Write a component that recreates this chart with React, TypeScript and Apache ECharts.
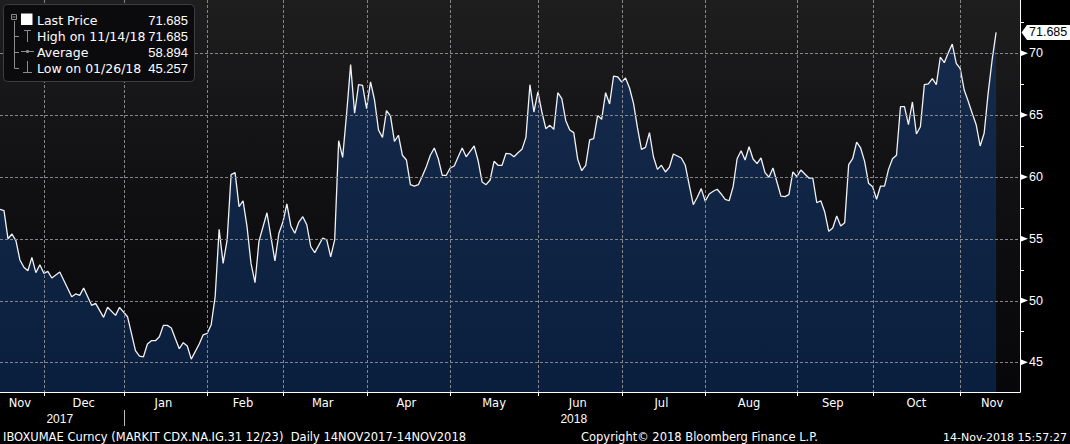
import { useEffect, useRef } from "react";
import * as echarts from "echarts";

// Trading-day calendar (weekdays minus market holidays)
const HOLIDAYS = [
  "2017-11-23", "2017-11-24", "2017-12-25", "2018-01-01", "2018-01-15",
  "2018-02-19", "2018-03-30", "2018-05-28", "2018-07-04", "2018-09-03",
  "2018-10-08", "2018-11-22",
];
const AXIS_START = "2017-11-14";
const AXIS_END = "2018-11-23";

// Daily values, one per trading day (null = not read; line joins across)
const nov17 = [57.38, 57.27, 55.0, 55.38, 54.84, 53.28, 52.69, 52.41, 53.49, 52.25, 52.9];
const dec17 = [52.2, 52.36, 51.82, null, 52.31, null, null, 50.31, 50.53, 50.42, 51.01, null, 49.61, 49.77, null, 48.64, 49.45, null, 48.8, 49.45];
const jan18 = [49.07, 48.69, null, 45.94, 45.51, 45.45, 46.48, 46.75, 46.75, 47.07, 47.99, 47.99, 47.78, 46.92, 46.1, 46.59, 46.32, 45.257, null, 46.48, 47.23];
const feb18 = [47.34, 48.04, 50.31, 55.76, 53.0, 54.88, 60.18, 60.34, 57.59, 58.07, 55.97, 53.0, 51.44, 54.8, null, 57.1, null, 53.2, 55.44];
const mar18 = [56.35, 57.81, 56.03, 55.44, 56.35, 56.78, 56.13, 54.35, 53.87, null, 55.06, 54.9, 53.54, 54.9, 62.93, 61.58, 65.15, 69.08, 65.15, 67.46, 67.41];
const apr18 = [65.52, 67.68, 66.22, 63.79, 63.2, 65.36, 64.93, 62.88, 63.37, 61.75, 61.37, 59.37, 59.26, 59.37, 60.07, 60.83, 61.75, 62.34, 61.47, 60.13, 60.13];
const may18 = [60.72, 60.88, 61.63, 62.34, 61.63, 62.07, 62.5, 61.31, 59.59, 59.37, 59.75, 61.26, 60.94, 60.94, 61.91, 61.87, 61.63, 61.96, 62.23, 63.2, 67.46, 65.25];
const jun18 = [66.87, 65.25, 63.9, 64.17, 63.85, 66.81, 66.33, 64.55, 63.79, 63.58, 61.42, 60.5, 60.94, 62.99, 63.09, 64.98, 64.66, 66.81, 65.9, 68.16, 68.1];
const jul18 = [67.68, 68.0, 67.19, 65.95, 63.96, 62.23, 62.39, 63.58, 61.63, 60.61, 60.94, 60.4, 60.78, 61.85, 61.69, 61.53, 60.94, 59.32, 57.75, 58.35, 59.05];
const aug18 = [58.03, 58.62, 58.84, 59.0, 58.62, 58.19, 58.07, 59.21, 61.47, 62.12, 61.37, 62.44, 61.45, 61.07, 61.53, 60.34, 59.97, 60.72, 59.59, 58.45, 58.4, 58.56, 60.4];
const sep18 = [60.02, 60.56, 60.23, 59.91, 59.91, 57.91, 58.07, 57.16, 55.6, 55.87, 56.84, 56.03, 56.3, 60.99, 61.47, 62.82, 62.34, 61.26, 59.48];
const oct18 = [59.21, 58.19, 59.26, 59.26, 60.61, 61.47, 61.75, 65.68, 65.68, 64.22, 66.06, 63.47, 64.06, 67.46, 67.52, 67.95, 67.46, 69.68, 69.24, 70.05, 70.75, 69.19];
const nov18 = [68.76, 67.03, 66.12, 65.15, 64.22, 62.5, 63.53, 66.76, 69.46, 71.685];

const Y_MIN = 42.6;
const Y_MAX = 74.31;
const GRID_LINES = [45, 50, 55, 60, 65, 70];
const MINOR_TICKS = [47.5, 52.5, 57.5, 62.5, 67.5, 72.5];
const LAST_PRICE = 71.685;

const LEGEND_ROWS = [
  { label: "Last Price", value: "71.685" },
  { label: "High on 11/14/18", value: "71.685" },
  { label: "Average", value: "58.894" },
  { label: "Low on 01/26/18", value: "45.257" },
];
const FOOTER_LEFT = "IBOXUMAE Curncy (MARKIT CDX.NA.IG.31 12/23)  Daily 14NOV2017-14NOV2018";
const FOOTER_MID = "Copyright\u00A9 2018 Bloomberg Finance L.P.";
const FOOTER_RIGHT = "14-Nov-2018 15:57:27";
const MONTHS = ["Jan", "Feb", "Mar", "Apr", "May", "Jun", "Jul", "Aug", "Sep", "Oct", "Nov", "Dec"];

const FONT = "'DejaVu Sans', Verdana, sans-serif";
const NUM_FONT = "'Liberation Sans', Arial, sans-serif";
const GRID_COLOR = "#85858a";
const GRID_TOP = 0;
const GRID_BOTTOM = 52;
const PAGE_H = 444;

function tradingDays(start: string, end: string): string[] {
  const out: string[] = [];
  const d = new Date(start + "T00:00:00Z");
  const e = new Date(end + "T00:00:00Z");
  while (d <= e) {
    const s = d.toISOString().slice(0, 10);
    const wd = d.getUTCDay();
    if (wd !== 0 && wd !== 6 && HOLIDAYS.indexOf(s) < 0) out.push(s);
    d.setUTCDate(d.getUTCDate() + 1);
  }
  return out;
}

export default function App() {
  const ref = useRef<HTMLDivElement>(null);

  useEffect(() => {
    document.body.style.margin = "0";
    document.body.style.background = "#000";
    if (!ref.current) return;
    const chart = echarts.init(ref.current, undefined, { renderer: "svg" });

    const days = tradingDays(AXIS_START, AXIS_END);
    const values = [
      ...nov17, ...dec17, ...jan18, ...feb18, ...mar18, ...apr18, ...may18,
      ...jun18, ...jul18, ...aug18, ...sep18, ...oct18, ...nov18,
    ];

    const monthStart: number[] = [];
    const groups: { key: string; first: number; last: number }[] = [];
    days.forEach((d, i) => {
      const key = d.slice(0, 7);
      if (!groups.length || groups[groups.length - 1].key !== key) {
        groups.push({ key, first: i, last: i });
        if (i > 0) monthStart.push(i);
      } else groups[groups.length - 1].last = i;
    });
    const monthLabel = new Set<number>(groups.map((g) => Math.round((g.first + g.last) / 2)));
    const years: { y: string; first: number; last: number }[] = [];
    days.forEach((d, i) => {
      const y = d.slice(0, 4);
      if (!years.length || years[years.length - 1].y !== y) years.push({ y, first: i, last: i });
      else years[years.length - 1].last = i;
    });
    const yearLabel = new Set<number>(years.map((g) => Math.round((g.first + g.last) / 2)));
    const yearBreaks = years.slice(1).map((g) => g.first);

    const option: any = {
      animation: false,
      backgroundColor: "#000",
      textStyle: { fontFamily: FONT },
      grid: {
        left: 0, right: 50, top: GRID_TOP, bottom: GRID_BOTTOM, show: true, borderWidth: 0,
        backgroundColor: new echarts.graphic.LinearGradient(0, 0, 0, 1, [
          { offset: 0, color: "#1e1e1f" },
          { offset: 0.45, color: "#111113" },
          { offset: 1, color: "#07070a" },
        ]),
      },
      xAxis: [
        {
          type: "category", data: days, boundaryGap: false, z: 4,
          axisLine: { lineStyle: { color: "#ffffff", width: 1 } },
          axisTick: { show: false },
          axisLabel: {
            interval: (i: number) => monthLabel.has(i),
            formatter: (v: string) => MONTHS[parseInt(v.slice(5, 7), 10) - 1],
            color: "#ffffff", fontSize: 11.5, fontFamily: FONT, margin: 5,
          },
          splitLine: { show: false },
        },
        {
          type: "category", data: days, boundaryGap: false, position: "bottom",
          axisLine: { show: false }, axisTick: { show: false }, splitLine: { show: false },
          axisLabel: {
            interval: (i: number) => yearLabel.has(i),
            formatter: (v: string) => v.slice(0, 4),
            color: "#ffffff", fontSize: 12, fontFamily: NUM_FONT, margin: 21,
          },
        },
      ],
      yAxis: {
        type: "value", position: "right", min: Y_MIN, max: Y_MAX, z: 4,
        axisLine: { show: true, lineStyle: { color: "#ffffff", width: 1 } },
        axisTick: { show: false },
        splitLine: { show: false },
        axisLabel: {
          color: "#ffffff", fontSize: 12.5, fontFamily: NUM_FONT, margin: 9,
          showMinLabel: false, showMaxLabel: false,
          formatter: (v: number) => (GRID_LINES.indexOf(v) >= 0 ? String(v) : ""),
        },
      },
      series: [
        {
          type: "line", data: values, xAxisIndex: 0, connectNulls: true,
          symbol: "none", z: 2,
          lineStyle: { color: "#f2f2f2", width: 1.3 },
          areaStyle: {
            color: new echarts.graphic.LinearGradient(0, 0, 0, 392, [
              { offset: 0, color: "#172c4d" },
              { offset: 1, color: "#0a1f3d" },
            ], true),
            opacity: 1,
          },
        },
      ],
    };
    chart.setOption(option);

    const yPx = (v: number) => Number(chart.convertToPixel({ yAxisIndex: 0 }, v));
    const xPx = (i: number) => Number(chart.convertToPixel({ xAxisIndex: 0 }, days[i]));
    const axisX = xPx(days.length - 1);
    const leftX = xPx(0);
    const topY = GRID_TOP;
    const bottomY = PAGE_H - GRID_BOTTOM;

    const g: any[] = [];
    // vertical dashed gridlines and month ticks at month starts
    monthStart.forEach((i) => {
      const x = Math.round(xPx(i)) + 0.5;
      g.push({ type: "line", silent: true, z: 3, shape: { x1: x, y1: topY, x2: x, y2: bottomY }, style: { stroke: GRID_COLOR, lineWidth: 1, lineDash: [3, 2] } });
      g.push({ type: "line", silent: true, z: 10, shape: { x1: x, y1: bottomY, x2: x, y2: bottomY + 4 }, style: { stroke: "#ffffff", lineWidth: 1 } });
    });
    GRID_LINES.forEach((v) => {
      const y = Math.round(yPx(v)) + 0.5;
      g.push({ type: "line", silent: true, z: 3, shape: { x1: leftX, y1: y, x2: axisX, y2: y }, style: { stroke: GRID_COLOR, lineWidth: 1, lineDash: [3, 2] } });
    });
    GRID_LINES.forEach((v) => {
      const y = yPx(v);
      g.push({ type: "polygon", shape: { points: [[axisX + 0.5, y - 3], [axisX + 8, y], [axisX + 0.5, y + 3]] }, style: { fill: "#ffffff" }, z: 10 });
    });
    MINOR_TICKS.forEach((v) => {
      const y = Math.round(yPx(v)) + 0.5;
      g.push({ type: "line", shape: { x1: axisX, y1: y, x2: axisX + 4, y2: y }, style: { stroke: "#ffffff", lineWidth: 1 }, z: 10 });
    });
    const ly = yPx(LAST_PRICE);
    g.push({
      type: "polygon",
      shape: { points: [[axisX + 1.5, ly], [axisX + 7, ly - 7.5], [1070, ly - 7.5], [1070, ly + 7.5], [axisX + 7, ly + 7.5]] },
      style: { fill: "#ffffff" }, z: 11,
    });
    g.push({
      type: "text", x: axisX + 9, y: ly, z: 12,
      style: { text: String(LAST_PRICE), fill: "#000000", font: `12.5px ${NUM_FONT}`, textVerticalAlign: "middle", textAlign: "left" },
    });
    yearBreaks.forEach((i) => {
      const x = Math.round(xPx(i)) + 0.5;
      g.push({ type: "line", shape: { x1: x, y1: bottomY + 18, x2: x, y2: bottomY + 34 }, style: { stroke: "#bdbdbd", lineWidth: 1 }, z: 10 });
    });
    g.push({ type: "text", x: 3, y: 437, style: { text: FOOTER_LEFT, fill: "#ffffff", font: `11.5px ${FONT}`, textVerticalAlign: "middle" } });
    g.push({ type: "text", x: 581, y: 437, style: { text: FOOTER_MID, fill: "#ffffff", font: `11.5px ${FONT}`, textVerticalAlign: "middle" } });
    g.push({ type: "text", x: 1067, y: 437, style: { text: FOOTER_RIGHT, fill: "#ffffff", font: `11px ${FONT}`, textVerticalAlign: "middle", textAlign: "right" } });

    const gray = "#8c8c8c";
    const rowY = [20, 36, 52, 68];
    g.push({ type: "rect", shape: { x: 3.5, y: 4.5, width: 191, height: 77, r: 4 }, style: { fill: "#0b0b0e", stroke: "#3e3e42", lineWidth: 1 }, z: 20 });
    g.push({ type: "rect", shape: { x: 11.5, y: 14.5, width: 5, height: 5 }, style: { fill: "none", stroke: gray, lineWidth: 1 }, z: 21 });
    g.push({ type: "line", shape: { x1: 12.5, y1: 17, x2: 15.5, y2: 17 }, style: { stroke: gray, lineWidth: 1 }, z: 21 });
    g.push({ type: "line", shape: { x1: 14.5, y1: 21, x2: 14.5, y2: rowY[3] + 0.5 }, style: { stroke: gray, lineWidth: 1 }, z: 21 });
    [1, 2, 3].forEach((k) => {
      g.push({ type: "line", shape: { x1: 14.5, y1: rowY[k] + 0.5, x2: 19, y2: rowY[k] + 0.5 }, style: { stroke: gray, lineWidth: 1 }, z: 21 });
    });
    g.push({ type: "rect", shape: { x: 21, y: 13.5, width: 11.5, height: 11.5 }, style: { fill: "#ffffff" }, z: 21 });
    g.push({ type: "line", shape: { x1: 27.5, y1: 30, x2: 27.5, y2: 42 }, style: { stroke: gray, lineWidth: 1 }, z: 21 });
    g.push({ type: "line", shape: { x1: 24, y1: 30.5, x2: 31, y2: 30.5 }, style: { stroke: gray, lineWidth: 1 }, z: 21 });
    g.push({ type: "line", shape: { x1: 21, y1: 51.5, x2: 34, y2: 51.5 }, style: { stroke: gray, lineWidth: 1 }, z: 21 });
    g.push({ type: "circle", shape: { cx: 27.5, cy: 51.5, r: 1.6 }, style: { fill: gray }, z: 21 });
    g.push({ type: "line", shape: { x1: 27.5, y1: 61, x2: 27.5, y2: 73 }, style: { stroke: gray, lineWidth: 1 }, z: 21 });
    g.push({ type: "line", shape: { x1: 23, y1: 72.5, x2: 32, y2: 72.5 }, style: { stroke: gray, lineWidth: 1 }, z: 21 });
    LEGEND_ROWS.forEach((r, k) => {
      g.push({ type: "text", x: 37, y: rowY[k] + 0.5, z: 22, style: { text: r.label, fill: "#ffffff", font: `12.5px ${FONT}`, textVerticalAlign: "middle" } });
      g.push({ type: "text", x: 188, y: rowY[k] + 0.5, z: 22, style: { text: r.value, fill: "#ffffff", font: `13px ${NUM_FONT}`, textVerticalAlign: "middle", textAlign: "right" } });
    });

    chart.setOption({ graphic: g });

    return () => chart.dispose();
  }, []);

  return (
    <div
      ref={ref}
      style={{ position: "fixed", left: 0, top: 0, width: 1070, height: 444, background: "#000" }}
    />
  );
}
